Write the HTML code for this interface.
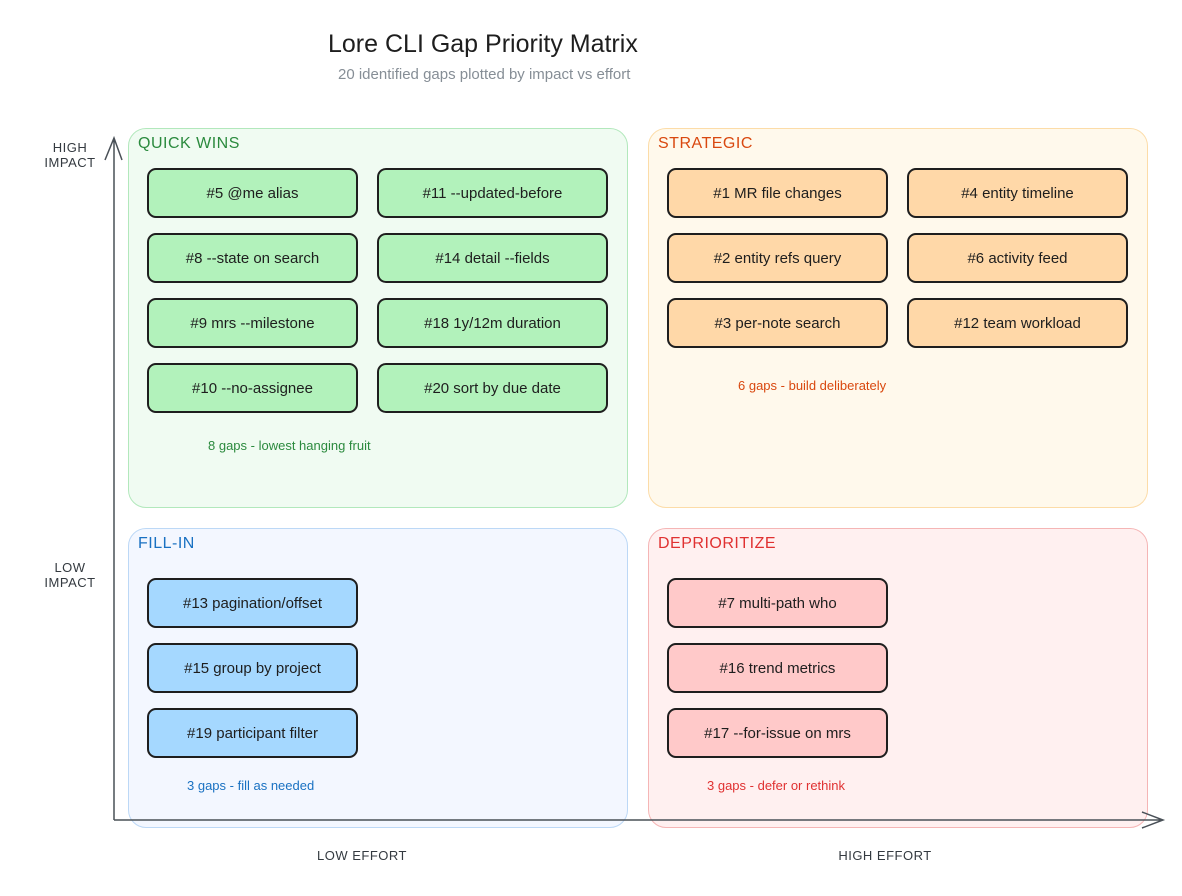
<!DOCTYPE html>
<html><head><meta charset="utf-8"><style>
body{margin:0;width:1182px;height:896px;background:#fff;position:relative;font-family:"Liberation Sans",sans-serif;overflow:hidden}
.a{position:absolute}
.q{position:absolute;border-radius:18px;border:1.5px solid}
.b{position:absolute;border:2px solid #1e1e1e;border-radius:9px;display:flex;align-items:center;justify-content:center;font-size:15px;color:#1e1e1e;box-sizing:border-box}
.g{background:#b2f2bb}.o{background:#ffd8a8}.bl{background:#a5d8ff}.r{background:#ffc9c9}
.h{position:absolute;font-size:16px;letter-spacing:0.5px}
.n{position:absolute;font-size:13px}
.ax{position:absolute;font-size:13px;color:#343a40;text-align:center;letter-spacing:0.5px}
</style></head><body>
<div class="a" style="left:328px;top:30px;font-size:25px;color:#1e1e1e">Lore CLI Gap Priority Matrix</div>
<div class="a" style="left:338px;top:66px;font-size:15px;color:#868e96">20 identified gaps plotted by impact vs effort</div>

<div class="q" style="left:128px;top:128px;width:498px;height:378px;background:#f0fbf2;border-color:#b2e8bc"></div>
<div class="q" style="left:648px;top:128px;width:498px;height:378px;background:#fff9ec;border-color:#fcdca8"></div>
<div class="q" style="left:128px;top:528px;width:498px;height:298px;background:#f3f7ff;border-color:#bcd8f6"></div>
<div class="q" style="left:648px;top:528px;width:498px;height:298px;background:#fff0f0;border-color:#f5b5b5"></div>

<div class="h" style="left:138px;top:135px;color:#2b8a3e">QUICK WINS</div>
<div class="h" style="left:658px;top:135px;color:#d9480f">STRATEGIC</div>
<div class="h" style="left:138px;top:535px;color:#1971c2">FILL-IN</div>
<div class="h" style="left:658px;top:535px;color:#e03131">DEPRIORITIZE</div>

<div class="b g" style="left:147px;top:168px;width:211px;height:50px">#5 @me alias</div>
<div class="b g" style="left:377px;top:168px;width:231px;height:50px">#11 --updated-before</div>
<div class="b g" style="left:147px;top:233px;width:211px;height:50px">#8 --state on search</div>
<div class="b g" style="left:377px;top:233px;width:231px;height:50px">#14 detail --fields</div>
<div class="b g" style="left:147px;top:298px;width:211px;height:50px">#9 mrs --milestone</div>
<div class="b g" style="left:377px;top:298px;width:231px;height:50px">#18 1y/12m duration</div>
<div class="b g" style="left:147px;top:363px;width:211px;height:50px">#10 --no-assignee</div>
<div class="b g" style="left:377px;top:363px;width:231px;height:50px">#20 sort by due date</div>
<div class="n" style="left:208px;top:438px;color:#2b8a3e">8 gaps - lowest hanging fruit</div>

<div class="b o" style="left:667px;top:168px;width:221px;height:50px">#1 MR file changes</div>
<div class="b o" style="left:907px;top:168px;width:221px;height:50px">#4 entity timeline</div>
<div class="b o" style="left:667px;top:233px;width:221px;height:50px">#2 entity refs query</div>
<div class="b o" style="left:907px;top:233px;width:221px;height:50px">#6 activity feed</div>
<div class="b o" style="left:667px;top:298px;width:221px;height:50px">#3 per-note search</div>
<div class="b o" style="left:907px;top:298px;width:221px;height:50px">#12 team workload</div>
<div class="n" style="left:738px;top:378px;color:#d9480f">6 gaps - build deliberately</div>

<div class="b bl" style="left:147px;top:578px;width:211px;height:50px">#13 pagination/offset</div>
<div class="b bl" style="left:147px;top:643px;width:211px;height:50px">#15 group by project</div>
<div class="b bl" style="left:147px;top:708px;width:211px;height:50px">#19 participant filter</div>
<div class="n" style="left:187px;top:778px;color:#1971c2">3 gaps - fill as needed</div>

<div class="b r" style="left:667px;top:578px;width:221px;height:50px">#7 multi-path who</div>
<div class="b r" style="left:667px;top:643px;width:221px;height:50px">#16 trend metrics</div>
<div class="b r" style="left:667px;top:708px;width:221px;height:50px">#17 --for-issue on mrs</div>
<div class="n" style="left:707px;top:778px;color:#e03131">3 gaps - defer or rethink</div>

<svg class="a" style="left:0;top:0" width="1182" height="896">
<g stroke="#495057" stroke-width="1.5" fill="none">
<path d="M114 820 L114 140 M105 160 L114 138 L122 160"/>
<path d="M114 820 L1162 820 M1142 812 L1163 820 L1142 828"/>
</g></svg>
<div class="ax" style="left:40px;top:140px;width:60px">HIGH<br>IMPACT</div>
<div class="ax" style="left:40px;top:560px;width:60px">LOW<br>IMPACT</div>
<div class="ax" style="left:262px;top:848px;width:200px">LOW EFFORT</div>
<div class="ax" style="left:785px;top:848px;width:200px">HIGH EFFORT</div>
</body></html>
